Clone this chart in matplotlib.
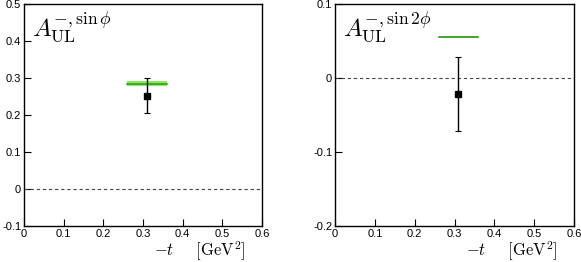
import matplotlib
matplotlib.use("Agg")
import matplotlib.pyplot as plt
import numpy as np

plt.rcParams['mathtext.fontset'] = 'cm'
plt.rcParams['font.family'] = ['Liberation Sans', 'DejaVu Sans']

# data
t_vals = [0.31]
a_sin_phi = [0.252]
a_sin_phi_lo = [0.047]
a_sin_phi_hi = [0.047]
a_sin2phi = [-0.022]
a_sin2phi_lo = [0.050]
a_sin2phi_hi = [0.050]

# model predictions (green bands): t-range, value, half width
model_t = [0.26, 0.36]
model_sin_phi = 0.285
model_sin_phi_w = 0.006
model_sin2phi = 0.055
model_sin2phi_w = 0.0012

panels = [
    dict(y=a_sin_phi, lo=a_sin_phi_lo, hi=a_sin_phi_hi, ylim=(-0.1, 0.5),
         m=model_sin_phi, mw=model_sin_phi_w,
         title=r'$A_{\rm UL}^{-,\sin\phi}$',
         yticks=[-0.1, 0, 0.1, 0.2, 0.3, 0.4, 0.5],
         pos=[24 / 581, 36 / 262, 238 / 581, 222 / 262]),
    dict(y=a_sin2phi, lo=a_sin2phi_lo, hi=a_sin2phi_hi, ylim=(-0.2, 0.1),
         m=model_sin2phi, mw=model_sin2phi_w,
         title=r'$A_{\rm UL}^{-,\sin2\phi}$',
         yticks=[-0.2, -0.1, 0, 0.1],
         pos=[335 / 581, 36 / 262, 239 / 581, 222 / 262]),
]

fig = plt.figure(figsize=(5.81, 2.62), dpi=100)

for p in panels:
    ax = fig.add_axes(p['pos'])
    ax.set_xlim(0, 0.6)
    ax.set_ylim(*p['ylim'])
    ax.axhline(0, color='#444444', lw=0.8, ls=(0, (3, 2.5)))
    ax.fill_between(model_t, p['m'] - p['mw'], p['m'] + p['mw'],
                    color='#8ae85a', lw=0)
    ax.plot(model_t, [p['m'], p['m']], color='#3a9a2a', lw=1.2)
    ax.errorbar(t_vals, p['y'], yerr=[p['lo'], p['hi']], fmt='s',
                color='black', ms=5, capsize=2.5, elinewidth=1.0, capthick=0.8)
    ax.set_xticks(np.arange(0, 0.61, 0.1))
    ax.set_xticklabels(['0', '0.1', '0.2', '0.3', '0.4', '0.5', '0.6'])
    ax.set_yticks(p['yticks'])
    ax.set_yticklabels(['0' if abs(v) < 1e-9 else '%.1f' % v for v in p['yticks']])
    ax.tick_params(direction='in', length=5, width=0.8, labelsize=8, pad=2)
    for s in ax.spines.values():
        s.set_linewidth(1.0)
    ax.text(0.035, 0.975, p['title'], transform=ax.transAxes, fontsize=18,
            va='top', ha='left')
    ax.text(0.93, -0.135, r'$-t\quad\;\;[{\rm GeV}^2]$', transform=ax.transAxes,
            fontsize=12, ha='right', va='baseline')

fig.savefig('out.png', dpi=100)
